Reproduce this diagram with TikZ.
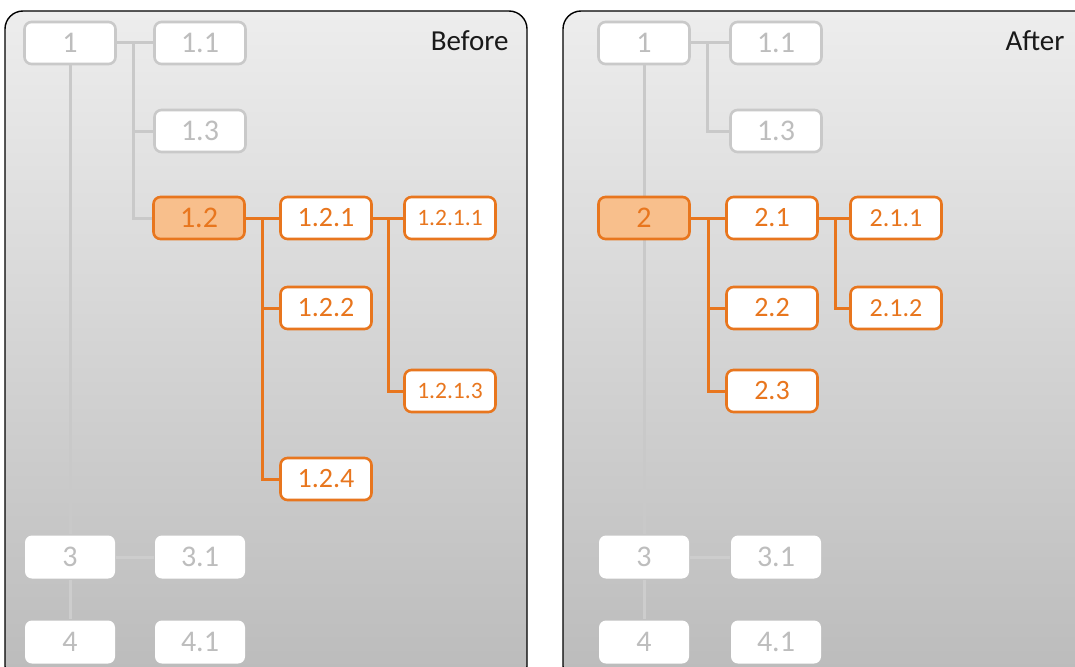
\documentclass[tikz,border=0pt]{standalone}
\usepackage{fontspec}
\setmainfont{Carlito}
\definecolor{orb}{HTML}{E8761E}
\definecolor{orf}{HTML}{F8BF8C}
\definecolor{grb}{HTML}{C9C9C9}
\definecolor{grt}{HTML}{BDBDBD}
\definecolor{grf}{HTML}{CDCDCD}
\definecolor{panT}{HTML}{EDEDED}
\definecolor{panB}{HTML}{BBBBBB}
\pgfdeclarelayer{bg}
\pgfdeclarelayer{wires}
\pgfsetlayers{bg,wires,main}
\begin{document}
\begin{tikzpicture}[x=1pt,y=-1pt,
  box/.style={rounded corners=7pt, minimum width=91pt, minimum height=42pt, inner sep=0pt, line width=2.6pt, font=\fontsize{28}{30}\selectfont},
  gbox/.style={box, draw=grb, fill=white, text=grt, font=\fontsize{30}{32}\selectfont},
  wbox/.style={box, draw=none, fill=white, text=grt, minimum width=90pt, minimum height=43pt, font=\fontsize{30}{32}\selectfont},
  obox/.style={box, draw=orb, fill=white, text=orb},
  selbox/.style={obox, fill=orf, font=\fontsize{30}{32}\selectfont},
  lvsmall/.style={font=\fontsize{23.5}{25}\selectfont},
  lvmid/.style={font=\fontsize{26}{28}\selectfont},
  gline/.style={draw=grb, line width=3pt},
  fline/.style={draw=grf, line width=3pt},
  oline/.style={draw=orb, line width=3pt},
  panel/.style={draw=black, line width=1.4pt, top color=panT, bottom color=panB, rounded corners=18pt},
  ttl/.style={anchor=east, font=\fontsize{29}{31}\selectfont, text=black!90}
]
\useasboundingbox (0,0) rectangle (1075,666);
\clip (0,0) rectangle (1075,666);
\begin{pgfonlayer}{bg}
  \path[panel] (5,11) rectangle (527,684);
  \path[panel] (563,11) rectangle (1094,684);
\end{pgfonlayer}

% ---------- Before ----------
\node[ttl] (tb) at (512,41) {Before};
\node[gbox] (l1)   at (70,43)  {1};
\node[gbox] (l11)  at (200,43) {1.1};
\node[gbox] (l13)  at (200,131) {1.3};
\node[selbox] (l12) at (199,218) {1.2};
\node[obox] (l121) at (326,218) {1.2.1};
\node[obox,lvsmall] (l1211) at (450,218) {1.2.1.1};
\node[obox] (l122) at (326,308) {1.2.2};
\node[obox,lvsmall] (l1213) at (450,391) {1.2.1.3};
\node[obox] (l124) at (326,479) {1.2.4};
\node[wbox] (l3)  at (70,557)  {3};
\node[wbox] (l31) at (200,557) {3.1};
\node[wbox] (l4)  at (70,642)  {4};
\node[wbox] (l41) at (200,642) {4.1};
\coordinate (lj1) at (133,43);
\coordinate (lj2) at (262,218);
\coordinate (lj3) at (388,218);

% ---------- After ----------
\node[ttl] (ta) at (1068,41) {After};
\node[gbox] (r1)  at (644,43)  {1};
\node[gbox] (r11) at (776,43)  {1.1};
\node[gbox] (r13) at (776,131) {1.3};
\node[selbox] (r2) at (644,218) {2};
\node[obox] (r21) at (772,218) {2.1};
\node[obox,lvmid] (r211) at (896,218) {2.1.1};
\node[obox] (r22) at (772,308) {2.2};
\node[obox,lvmid] (r212) at (896,308) {2.1.2};
\node[obox] (r23) at (772,391) {2.3};
\node[wbox] (r3)  at (644,557) {3};
\node[wbox] (r31) at (776,557) {3.1};
\node[wbox] (r4)  at (644,642) {4};
\node[wbox] (r41) at (776,642) {4.1};
\coordinate (rj1) at (707,43);
\coordinate (rj2) at (708,218);
\coordinate (rj3) at (835,218);

\begin{pgfonlayer}{wires}
  % before
  \draw[gline] (l1.south) -- (l3.north);
  \draw[fline] (l3.south) -- (l4.north);
  \draw[fline] (l3.east) -- (l31.west);
  \draw[gline] (l1.east) -- (lj1) -- (l11.west);
  \draw[gline] (lj1) |- (l13.west);
  \draw[gline] (lj1) |- (l12.west);
  \draw[oline] (l12.east) -- (lj2) -- (l121.west);
  \draw[oline] (lj2) |- (l122.west);
  \draw[oline] (lj2) |- (l124.west);
  \draw[oline] (l121.east) -- (lj3) -- (l1211.west);
  \draw[oline] (lj3) |- (l1213.west);
  % after
  \draw[gline] (r1.south) -- (r3.north);
  \draw[fline] (r3.south) -- (r4.north);
  \draw[fline] (r3.east) -- (r31.west);
  \draw[gline] (r1.east) -- (rj1) -- (r11.west);
  \draw[gline] (rj1) |- (r13.west);
  \draw[oline] (r2.east) -- (rj2) -- (r21.west);
  \draw[oline] (rj2) |- (r22.west);
  \draw[oline] (rj2) |- (r23.west);
  \draw[oline] (r21.east) -- (rj3) -- (r211.west);
  \draw[oline] (rj3) |- (r212.west);
\end{pgfonlayer}
\end{tikzpicture}
\end{document}
